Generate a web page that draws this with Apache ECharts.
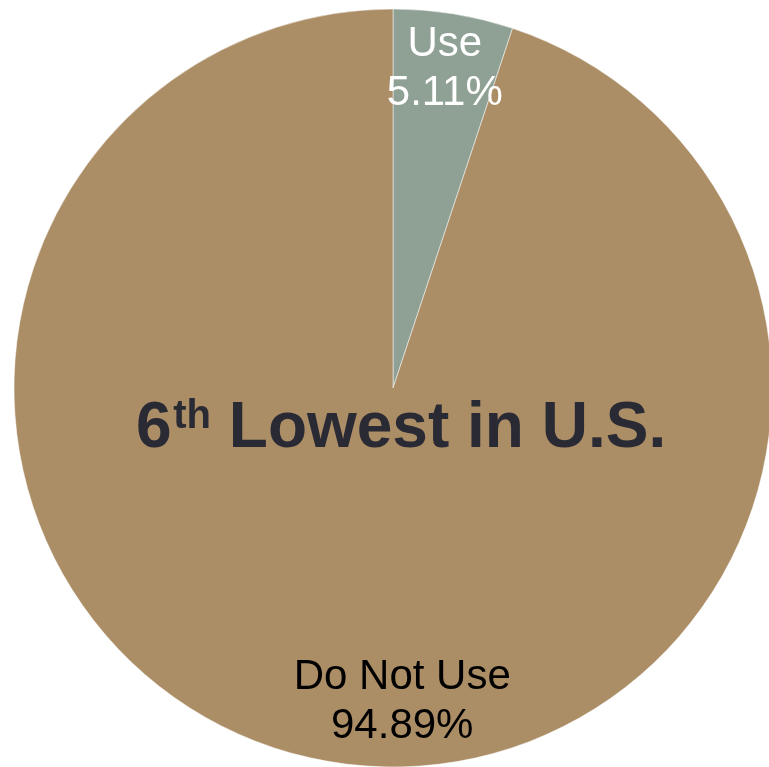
<!DOCTYPE html>
<html>
<head>
<meta charset="utf-8">
<script src="https://cdn.jsdelivr.net/npm/echarts@6/dist/echarts.min.js"></script>
<style>html,body{margin:0;padding:0;background:#fff;}#c{width:769px;height:767px;}</style>
</head>
<body>
<div id="c"></div>
<script>
const categories = ['Use', 'Do Not Use'];
const values = [5.11, 94.89];
const sliceColors = ['#8FA094', '#AB8D66'];
const labelColors = ['#ffffff', '#000000'];
const centerMain = 'Lowest in U.S.';
const centerRank = '6';
const centerSup = 'th';

const chart = echarts.init(document.getElementById('c'), null, {renderer: 'canvas'});
const shifts = [[21, -129], [40, 124]];
chart.setOption({
  animation: false,
  backgroundColor: '#ffffff',
  series: [{
    type: 'pie',
    center: [393, 388],
    radius: [0, 379],
    startAngle: 90,
    clockwise: true,
    avoidLabelOverlap: false,
    itemStyle: {borderColor: '#ffffff', borderWidth: 0.5},
    label: {
      show: true,
      position: 'inside',
      fontFamily: 'Liberation Sans, Arial, sans-serif',
      fontSize: 42,
      lineHeight: 49,
      formatter: p => p.name + '\n' + p.value.toFixed(2) + '%'
    },
    labelLine: {show: false},
    labelLayout: p => ({dx: shifts[p.dataIndex][0], dy: shifts[p.dataIndex][1]}),
    data: categories.map((c, i) => ({
      name: c, value: values[i],
      itemStyle: {color: sliceColors[i]},
      label: {color: labelColors[i]}
    }))
  }],
  graphic: [{
    type: 'text',
    z: 100,
    left: 136,
    top: 397,
    style: {
      text: '{a|' + centerRank + '}{s| }{b|' + centerSup + '}{a| ' + centerMain + '}',
      rich: {
        a: {fontFamily: 'Liberation Sans, Arial, sans-serif', fontWeight: 'bold', fontSize: 64, fill: '#2A2A35', verticalAlign: 'bottom'},
        s: {fontSize: 6, verticalAlign: 'top'},
        b: {fontFamily: 'Liberation Sans, Arial, sans-serif', fontWeight: 'bold', fontSize: 40, fill: '#2A2A35', verticalAlign: 'top'}
      }
    }
  }]
});
</script>
</body>
</html>
